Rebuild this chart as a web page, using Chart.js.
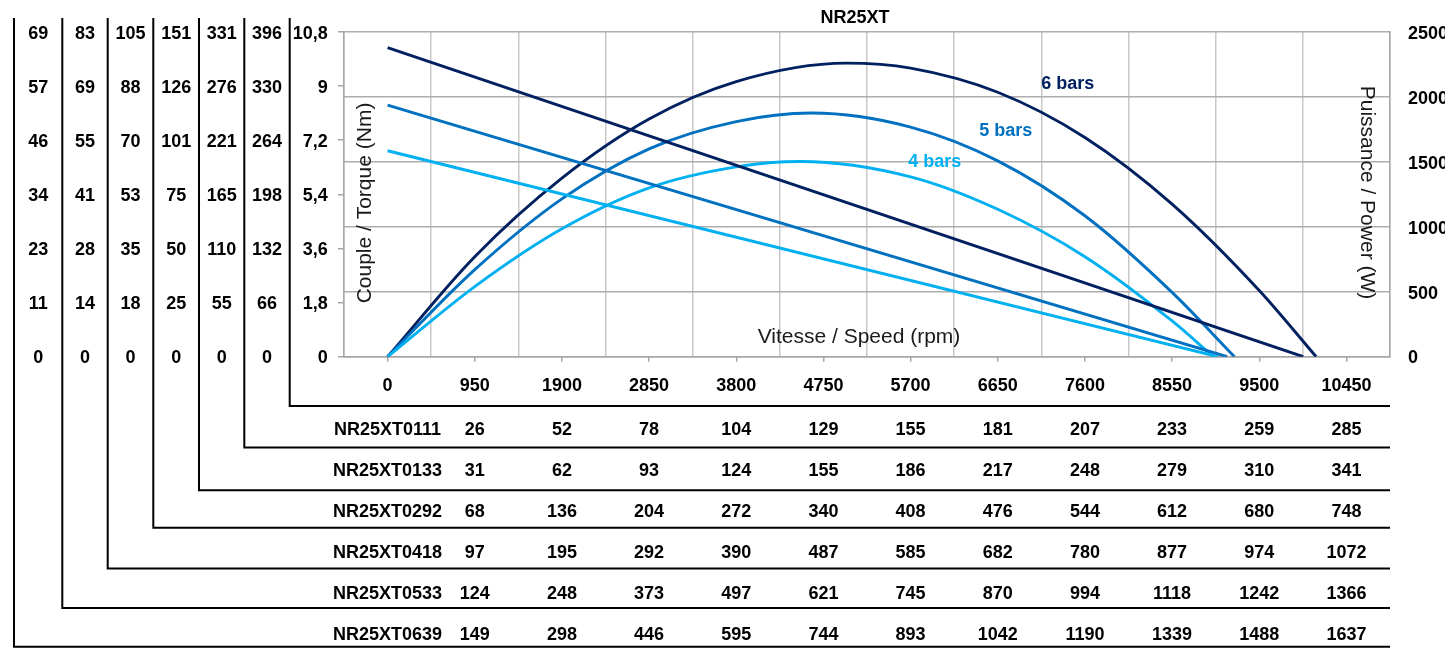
<!DOCTYPE html>
<html>
<head>
<meta charset="utf-8">
<title>NR25XT</title>
<script src="https://cdn.jsdelivr.net/npm/chart.js@4.4.1/dist/chart.umd.min.js"></script>
<style>
  html, body { margin: 0; padding: 0; background: #fff; }
  #chart { display: block; }
</style>
</head>
<body>
<canvas id="chart" width="1445" height="653"></canvas>
<script>
// speed axis (rpm)
const speedTicks = [0, 950, 1900, 2850, 3800, 4750, 5700, 6650, 7600, 8550, 9500, 10450];
const torqueTicks = [0, 1.8, 3.6, 5.4, 7.2, 9, 10.8];
const powerTicks = [0, 500, 1000, 1500, 2000, 2500];

// torque (Nm), straight lines from stall to free speed
const torqueSpeed4 = [0, 9050];
const torque4 = [6.85, 0];
const torqueSpeed5 = [0, 9150];
const torque5 = [8.37, 0];
const torqueSpeed6 = [0, 9980];
const torque6 = [10.28, 0];

// power (W), top of the curve included
const powerSpeed4 = [0, 950, 1900, 2850, 3800, 4500, 5700, 6650, 7600, 8550, 9000];
const power4 = [0, 540, 985, 1300, 1462, 1503, 1385, 1135, 770, 275, 0];
const powerSpeed5 = [0, 950, 1900, 2850, 3800, 4620, 5700, 6650, 7600, 8550, 9230];
const power5 = [0, 670, 1215, 1600, 1810, 1876, 1768, 1508, 1085, 495, 0];
const powerSpeed6 = [0, 950, 1900, 2850, 3800, 5000, 5700, 6650, 7600, 8550, 9500, 10120];
const power6 = [0, 770, 1375, 1830, 2118, 2260, 2222, 2036, 1688, 1175, 510, 0];

// models, inner row first
const models = ['NR25XT0111', 'NR25XT0133', 'NR25XT0292', 'NR25XT0418', 'NR25XT0533', 'NR25XT0639'];

// table rows, one value per speed tick from 950 to 10450
const row0111 = [26, 52, 78, 104, 129, 155, 181, 207, 233, 259, 285];
const row0133 = [31, 62, 93, 124, 155, 186, 217, 248, 279, 310, 341];
const row0292 = [68, 136, 204, 272, 340, 408, 476, 544, 612, 680, 748];
const row0418 = [97, 195, 292, 390, 487, 585, 682, 780, 877, 974, 1072];
const row0533 = [124, 248, 373, 497, 621, 745, 870, 994, 1118, 1242, 1366];
const row0639 = [149, 298, 446, 595, 744, 893, 1042, 1190, 1339, 1488, 1637];

// left scale columns, bottom to top (one label per torque tick)
const col0111 = [0, 66, 132, 198, 264, 330, 396];
const col0133 = [0, 55, 110, 165, 221, 276, 331];
const col0292 = [0, 25, 50, 75, 101, 126, 151];
const col0418 = [0, 18, 35, 53, 70, 88, 105];
const col0533 = [0, 14, 28, 41, 55, 69, 83];
const col0639 = [0, 11, 23, 34, 46, 57, 69];

const rowValues = [row0111, row0133, row0292, row0418, row0533, row0639];
const colValues = [col0111, col0133, col0292, col0418, col0533, col0639];

// layout
const FONT = "'Liberation Sans', Arial, sans-serif";
const colWidths = [45.4, 45.3, 45.7, 45.6, 45.4, 48.3];
const rowHeights = [41.4, 42.8, 37.5, 40.8, 39.5, 38.7];
const rowLabelPad = [13.6, 12.6, 11.4, 14.4, 14.9, 16.0];
const C4 = '#00B0F0', C5 = '#0070C0', C6 = '#002060';
const GRID_V = '#c8c8c8', GRID_H = '#adadad', AXIS = '#a6a6a6';

Chart.defaults.font.family = FONT;
const tickFont = { family: FONT, size: 18, weight: 'bold' };

const mctx = document.createElement('canvas').getContext('2d');
mctx.font = 'bold 18px ' + FONT;
const widest = arr => Math.max(...arr.map(v => mctx.measureText(String(v)).width));

const half = (speedTicks[1] - speedTicks[0]) / 2;
const xMin = speedTicks[0] - half;
const xMax = speedTicks[speedTicks.length - 1] + half;
const gridTicks = speedTicks.map(v => v - half).concat([xMax]);

function pts(xs, ys) {
  return xs.map((x, i) => ({ x: x, y: ys[i] }));
}
function line(label, xs, ys, color, yAxisID, smooth) {
  return {
    label: label, data: pts(xs, ys), borderColor: color, borderWidth: 2.9,
    pointRadius: 0, fill: false, xAxisID: 'x', yAxisID: yAxisID,
    cubicInterpolationMode: smooth ? 'monotone' : 'default', tension: 0
  };
}

const scales = {
  x: {
    type: 'linear', position: 'bottom', min: xMin, max: xMax, weight: 0,
    afterBuildTicks: s => { s.ticks = gridTicks.map(value => ({ value })); },
    ticks: { display: false },
    grid: { color: GRID_V, lineWidth: 1.5, drawTicks: false },
    border: { display: true, color: AXIS, width: 1.5 },
    afterFit: s => { s.height = 0; }
  },
  xlab: {
    type: 'linear', position: 'bottom', min: xMin, max: xMax, weight: 1,
    afterBuildTicks: s => { s.ticks = speedTicks.map(value => ({ value })); },
    ticks: {
      font: tickFont, color: '#000', padding: 13.5, autoSkip: false,
      maxRotation: 0, minRotation: 0, callback: v => String(v)
    },
    grid: { drawOnChartArea: false, drawTicks: true, tickLength: 5, color: AXIS, lineWidth: 1.5 },
    border: { display: false },
    afterFit: s => { s.height = 49.3; }
  },
  torque: {
    type: 'linear', position: 'left', min: 0, max: 10.8, weight: 0,
    afterBuildTicks: s => { s.ticks = torqueTicks.map(value => ({ value })); },
    ticks: {
      font: tickFont, color: '#000', padding: 10.3, labelOffset: 1.8,
      callback: v => String(v).replace('.', ',')
    },
    grid: { drawOnChartArea: false, drawTicks: true, tickLength: 6, color: AXIS, lineWidth: 1.5 },
    border: { display: true, color: AXIS, width: 1.5 },
    afterFit: s => { s.width = 54.3; }
  },
  power: {
    type: 'linear', position: 'right', min: 0, max: 2500, weight: 0,
    afterBuildTicks: s => { s.ticks = powerTicks.map(value => ({ value })); },
    ticks: { font: tickFont, color: '#000', padding: 18, labelOffset: 1.8, callback: v => String(v) },
    grid: { color: GRID_H, lineWidth: 1.5, drawTicks: false },
    border: { display: true, color: AXIS, width: 1.5 },
    afterFit: s => { s.width = 55; }
  }
};

models.forEach((m, i) => {
  scales['row' + i] = {
    type: 'linear', position: 'bottom', min: xMin, max: xMax, weight: 2 + i,
    afterBuildTicks: s => { s.ticks = speedTicks.map(value => ({ value })); },
    ticks: {
      font: tickFont, color: '#000', padding: rowLabelPad[i], autoSkip: false,
      maxRotation: 0, minRotation: 0,
      callback: (v, idx) => idx === 0 ? m : String(rowValues[i][idx - 1])
    },
    grid: { display: false, drawTicks: false },
    border: { display: false },
    afterFit: s => { s.height = rowHeights[i]; }
  };
  // column labels sit on the torque tick positions, so the scale runs over tick indices
  const col = colValues[i];
  scales['col' + i] = {
    type: 'linear', position: 'left', min: 0, max: col.length - 1, weight: 1 + i,
    afterBuildTicks: s => { s.ticks = col.map((v, k) => ({ value: k })); },
    ticks: {
      font: tickFont, color: '#000', crossAlign: 'center', labelOffset: 1.8,
      padding: colWidths[i] / 2 - widest(col) / 2, callback: (v, k) => String(col[k])
    },
    grid: { display: false, drawTicks: false },
    border: { display: false },
    afterFit: s => { s.width = colWidths[i]; }
  };
});

function drawText(ctx, str, x, y, font, color, rot) {
  ctx.save();
  ctx.translate(x, y);
  if (rot) ctx.rotate(rot);
  ctx.font = font;
  ctx.fillStyle = color;
  ctx.textAlign = 'center';
  ctx.textBaseline = 'middle';
  ctx.fillText(str, 0, 0);
  ctx.restore();
}

const overlay = {
  id: 'overlay',
  afterDraw(chart) {
    const { ctx, chartArea, scales: sc } = chart;
    // brackets linking each left column to its table row
    ctx.save();
    ctx.strokeStyle = '#000';
    ctx.lineWidth = 2;
    for (let k = 0; k <= models.length; k++) {
      const x = k === 0 ? sc.torque.left : sc['col' + (k - 1)].left;
      const y = k === 0 ? sc.xlab.bottom : sc['row' + (k - 1)].bottom;
      ctx.beginPath();
      ctx.moveTo(x, 18);
      ctx.lineTo(x, y);
      ctx.lineTo(chartArea.right, y);
      ctx.stroke();
    }
    ctx.restore();

    const bold = 'bold 18px ' + FONT;
    const reg = '21px ' + FONT;
    drawText(ctx, 'NR25XT', 855, 18.5, bold, '#000');
    drawText(ctx, 'Vitesse / Speed (rpm)', 859, 337, reg, '#1a1a1a');
    drawText(ctx, 'Couple / Torque (Nm)', 365.5, 203, reg, '#1a1a1a', -Math.PI / 2);
    drawText(ctx, 'Puissance / Power (W)', 1367, 192.5, reg, '#1a1a1a', Math.PI / 2);

    const px = v => sc.x.getPixelForValue(v);
    const py = v => sc.power.getPixelForValue(v);
    drawText(ctx, '6 bars', px(7412), py(2100), bold, C6);
    drawText(ctx, '5 bars', px(6737), py(1738), bold, C5);
    drawText(ctx, '4 bars', px(5963), py(1500), bold, C4);
  }
};

new Chart(document.getElementById('chart'), {
  type: 'line',
  data: {
    datasets: [
      line('Couple 4 bars', torqueSpeed4, torque4, C4, 'torque', false),
      line('Couple 5 bars', torqueSpeed5, torque5, C5, 'torque', false),
      line('Couple 6 bars', torqueSpeed6, torque6, C6, 'torque', false),
      line('Puissance 4 bars', powerSpeed4, power4, C4, 'power', true),
      line('Puissance 5 bars', powerSpeed5, power5, C5, 'power', true),
      line('Puissance 6 bars', powerSpeed6, power6, C6, 'power', true)
    ]
  },
  options: {
    responsive: false,
    animation: false,
    devicePixelRatio: 1,
    layout: { padding: { left: 14, top: 32, right: 0, bottom: 6.3 } },
    plugins: { legend: { display: false }, title: { display: false }, tooltip: { enabled: false } },
    scales: scales
  },
  plugins: [overlay]
});
</script>
</body>
</html>
